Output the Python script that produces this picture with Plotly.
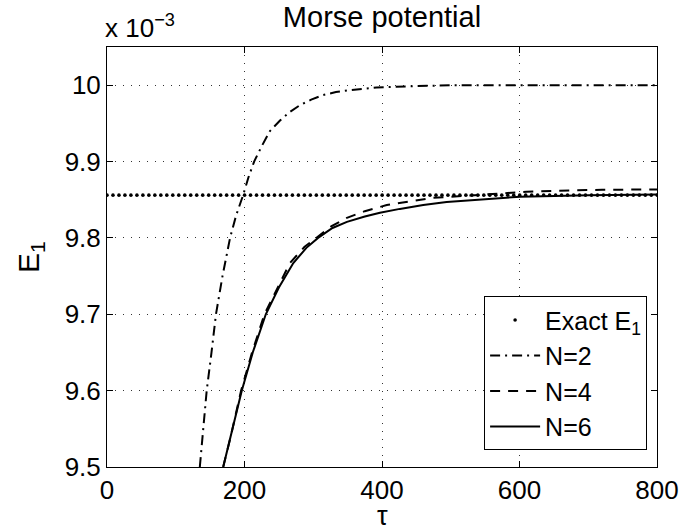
import numpy as np
import plotly.graph_objects as go

# Values in units of 1e-3 (axis shows "x 10^-3")
EXACT_E1 = 9.856

tau_n2 = [135, 140, 145, 152, 158.5, 168, 179, 188, 198, 206, 214, 225, 237, 252, 266,
          281, 297, 314, 333, 353, 372, 392, 420, 450, 500, 550, 600, 700, 800]
e1_n2 = [9.5, 9.55, 9.6, 9.65, 9.7, 9.75, 9.8, 9.83, 9.856, 9.88, 9.9, 9.92, 9.94, 9.954,
         9.965, 9.974, 9.981, 9.987, 9.991, 9.9935, 9.9955, 9.997, 9.998, 9.999, 10.0,
         10.0, 10.0, 10.0, 10.0]

tau_n4 = [169, 180, 195, 211, 229, 248, 266, 287, 305, 326, 348, 375, 407, 440, 474, 520,
          562, 610, 654, 720, 800]
e1_n4 = [9.5, 9.54, 9.6, 9.65, 9.7, 9.735, 9.767, 9.788, 9.8, 9.815, 9.826, 9.835, 9.843,
         9.848, 9.8525, 9.855, 9.8575, 9.8605, 9.8617, 9.863, 9.8635]

tau_n6 = [169, 180, 196, 212, 231, 250, 271, 290, 307, 328, 349, 375, 397, 426, 460, 494,
          550, 601, 700, 800]
e1_n6 = [9.5, 9.54, 9.6, 9.65, 9.7, 9.735, 9.767, 9.787, 9.8, 9.813, 9.821, 9.828, 9.833,
         9.838, 9.843, 9.847, 9.851, 9.854, 9.856, 9.857]

# sampling positions of the exact-value dotted marker line
tau_exact = np.arange(0, 801, 8.7)

x_ticks = [0, 200, 400, 600, 800]
x_ticktext = ["0", "200", "400", "600", "800"]
y_ticks = [9.5, 9.6, 9.7, 9.8, 9.9, 10.0]
y_ticktext = ["9.5", "9.6", "9.7", "9.8", "9.9", "10"]

FONT = "Liberation Sans, Arial, Helvetica, sans-serif"

fig = go.Figure()
fig.add_trace(go.Scatter(x=tau_exact, y=[EXACT_E1] * len(tau_exact), mode="markers",
                         marker=dict(color="black", size=3.6), name="Exact E<sub>1</sub>"))
fig.add_trace(go.Scatter(x=tau_n2, y=e1_n2, mode="lines", name="N=2",
                         line=dict(color="black", width=2, dash="10px,5px,2px,5px")))
fig.add_trace(go.Scatter(x=tau_n4, y=e1_n4, mode="lines", name="N=4",
                         line=dict(color="black", width=2, dash="10px,8px")))
fig.add_trace(go.Scatter(x=tau_n6, y=e1_n6, mode="lines", name="N=6",
                         line=dict(color="black", width=2)))

axis_common = dict(showline=True, linecolor="black", linewidth=1, mirror="allticks",
                   ticks="inside", ticklen=6, tickcolor="black", automargin=False,
                   showgrid=True, gridcolor="#333", griddash="1px,7px", gridwidth=1,
                   zeroline=False, tickfont=dict(family=FONT, size=26, color="black"))

fig.update_xaxes(range=[0, 800], tickvals=x_ticks, ticktext=x_ticktext, **axis_common)
fig.update_yaxes(range=[9.5, 10.05], tickvals=y_ticks, ticktext=y_ticktext, **axis_common)

fig.add_annotation(text="x 10<sup>−3</sup>", xref="paper", yref="paper", x=0, y=1,
                   xanchor="left", yanchor="bottom", showarrow=False, xshift=-4, yshift=2,
                   font=dict(family=FONT, size=26, color="black"))
# axis titles
fig.add_annotation(text="τ", xref="paper", yref="paper", x=0.5, y=-0.117,
                   xanchor="center", yanchor="middle", showarrow=False,
                   font=dict(family=FONT, size=27, color="black"))
fig.add_annotation(text="E<sub>1</sub>", xref="paper", yref="paper", x=-0.14, y=0.5,
                   xanchor="center", yanchor="middle", showarrow=False, textangle=-90,
                   font=dict(family=FONT, size=30, color="black"))

fig.update_layout(
    width=683, height=529,
    margin=dict(l=107, r=26, t=47, b=62, autoexpand=False),
    plot_bgcolor="white", paper_bgcolor="white",
    title=dict(text="Morse potential", x=0.5593, xanchor="center", y=0.969, yanchor="middle",
               font=dict(family=FONT, size=29, color="black")),
    showlegend=True,
    legend=dict(x=0.982, xanchor="right", y=0.04, yanchor="bottom",
                bgcolor="white", bordercolor="black", borderwidth=1, itemwidth=50,
                font=dict(family=FONT, size=25, color="black"), tracegroupgap=0),
)

fig.write_html("out.html", config={"displayModeBar": False},
               post_script="document.body.style.margin='0px';document.body.style.overflow='hidden';")
